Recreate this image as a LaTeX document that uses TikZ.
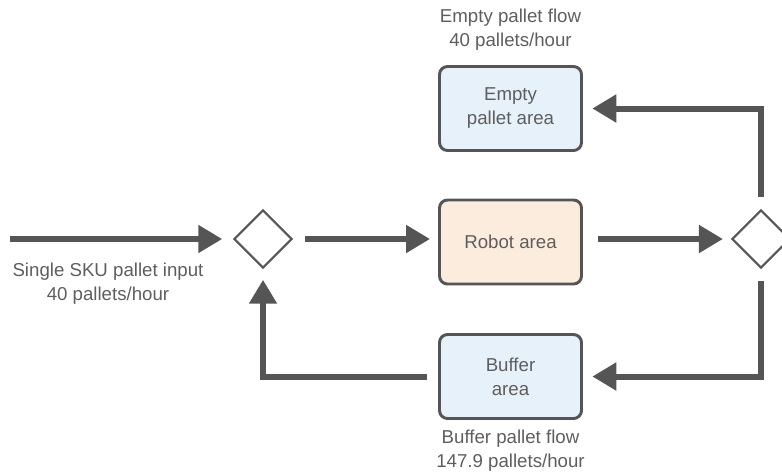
\documentclass[tikz,border=0pt]{standalone}
\usepackage{fontspec}
\setmainfont{Liberation Sans}
\usetikzlibrary{arrows.meta, shapes.geometric}

\definecolor{flowgray}{HTML}{555555}
\definecolor{textgray}{HTML}{5E5E5E}
\definecolor{areablue}{HTML}{E7F1F9}
\definecolor{areapeach}{HTML}{FBECDE}

\begin{document}
\begin{tikzpicture}[
    x=0.75pt, y=-0.75pt,
    area_style/.style={rectangle, draw=flowgray, line width=2.2pt, rounded corners=6pt,
        minimum width=106.5pt, minimum height=63pt, inner sep=0pt, align=center,
        text=textgray, font=\fontsize{14}{18}\selectfont},
    decision_style/.style={diamond, draw=flowgray, fill=white, line width=1.6pt,
        minimum width=43.5pt, minimum height=43.5pt, inner sep=0pt},
    flow_style/.style={-{Triangle[length=18pt, width=20pt]}, line width=4.5pt, flowgray},
    label_style/.style={align=center, text=textgray, font=\fontsize{14}{18}\selectfont}
]
    \useasboundingbox (0,0) rectangle (782,472);

    % Areas
    \node[area_style, fill=areablue] (empty) at (510.5,108.5) {Empty\\pallet area};
    \node[area_style, fill=areapeach] (robot) at (510.5,242) {Robot area};
    \node[area_style, fill=areablue] (buffer) at (510.5,376.5) {Buffer\\area};

    % Decision points
    \node[decision_style] (dec_in) at (263,239) {};
    \node[decision_style] (dec_out) at (761,239) {};
    \coordinate (in_start) at (10,239);

    % Flows
    \draw[flow_style, shorten >=8pt] (in_start) -- (dec_in);
    \draw[flow_style, shorten <=9pt, shorten >=6pt] (dec_in.east) -- (dec_in.east -| robot.west);
    \draw[flow_style, shorten <=11pt, shorten >=6pt] (robot.east |- dec_out.west) -- (dec_out.west);
    \draw[flow_style, shorten <=9pt, shorten >=7pt] (dec_out.north) |- (empty.east);
    \draw[flow_style, shorten <=9pt, shorten >=7pt] (dec_out.south) |- (buffer.east);
    \draw[flow_style, shorten <=8pt, shorten >=8pt] (buffer.west) -| (dec_in.south);

    % Flow rates
    \node[label_style] (empty_lbl) at (510.5,30) {Empty pallet flow\\40 pallets/hour};
    \node[label_style] (input_lbl) at (108,284) {Single SKU pallet input\\40 pallets/hour};
    \node[label_style] (buffer_lbl) at (510.5,451) {Buffer pallet flow\\147.9 pallets/hour};

\end{tikzpicture}
\end{document}
